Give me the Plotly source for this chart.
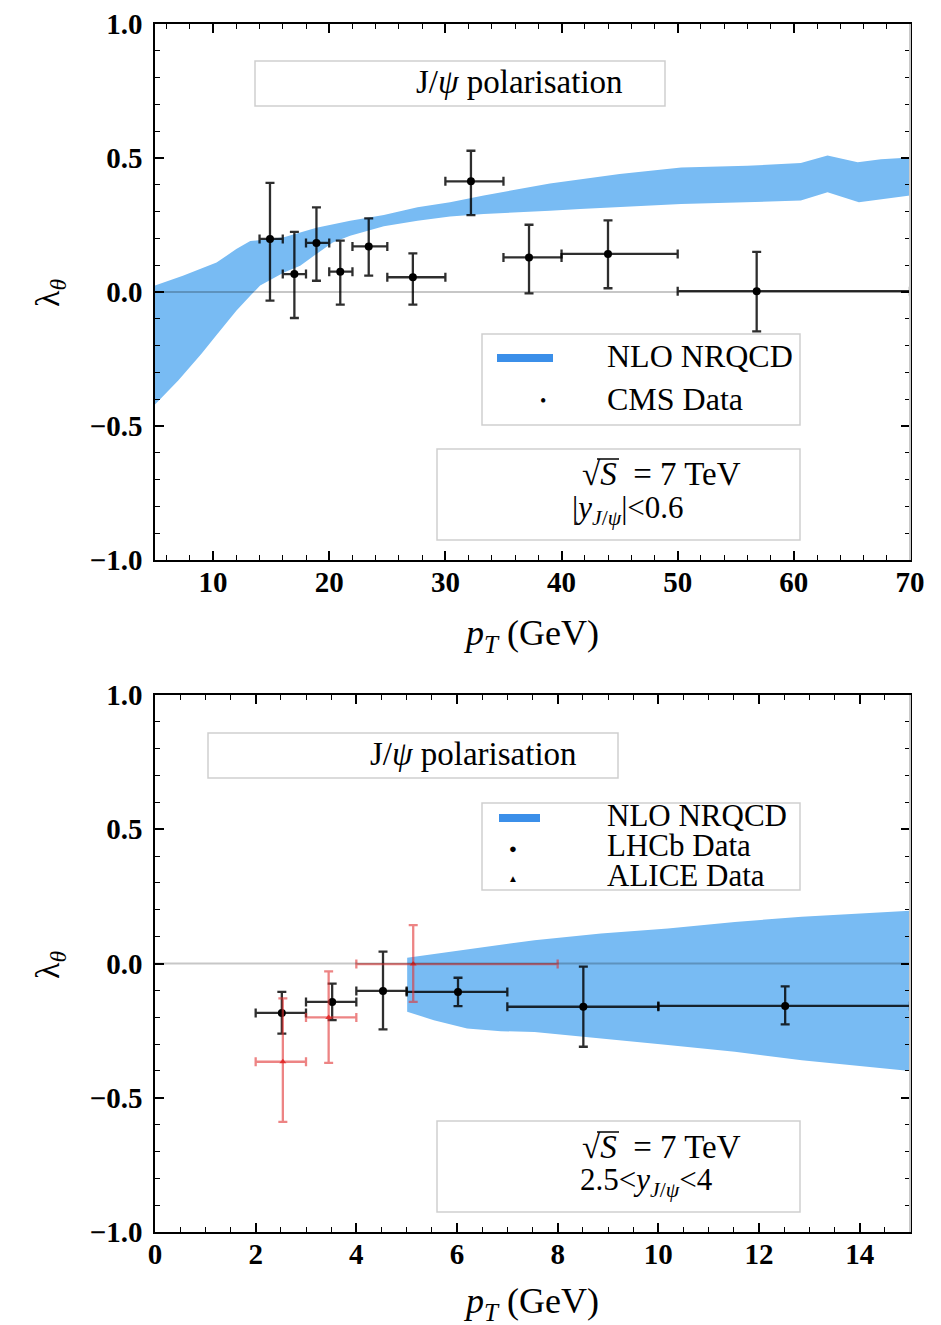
import plotly.graph_objects as go

W, H = 941, 1325

# ---------------- data: top panel (CMS, |y|<0.6) ----------------
cms_pt = [14.9, 17.0, 18.9, 20.95, 23.4, 27.2, 32.2, 37.2, 44.0, 56.8]
cms_bin_lo = [14, 16, 18, 20, 22, 25, 30, 35, 40, 50]
cms_bin_hi = [16, 18, 20, 22, 25, 30, 35, 40, 50, 70]
cms_lam = [0.198, 0.067, 0.183, 0.076, 0.170, 0.055, 0.413, 0.129, 0.142, 0.003]
cms_lam_hi = [0.407, 0.224, 0.316, 0.192, 0.275, 0.144, 0.527, 0.251, 0.267, 0.150]
cms_lam_lo = [-0.032, -0.097, 0.042, -0.047, 0.061, -0.047, 0.287, -0.005, 0.014, -0.147]

band1_up_pt = [5, 7.4, 10.3, 12.0, 13.2, 16.1, 18.9, 21.8, 24.7, 27.6, 30.4, 33.3, 39.0,
               41.6, 45.0, 50.3, 56.0, 60.6, 62.9, 65.5, 67.5, 70]
band1_up = [0.024, 0.061, 0.11, 0.16, 0.19, 0.204, 0.24, 0.266, 0.287, 0.316, 0.335, 0.36, 0.405,
            0.42, 0.44, 0.465, 0.471, 0.481, 0.509, 0.484, 0.495, 0.502]
band1_lo_pt = [5, 7, 9, 10.3, 12, 13.2, 14.05, 16.1, 17.5, 18.9, 20.3, 21.8, 24.7, 27.6, 30.4,
               33.3, 39.0, 41.6, 50.3, 56.0, 60.6, 62.9, 65.6, 70]
band1_lo = [-0.42, -0.33, -0.23, -0.16, -0.07, -0.014, 0.024, 0.073, 0.098, 0.142, 0.185, 0.21,
            0.245, 0.266, 0.282, 0.291, 0.303, 0.31, 0.328, 0.335, 0.341, 0.372, 0.335, 0.36]

# ---------------- data: bottom panel (LHCb, ALICE, 2.5<y<4) ----------------
lhcb_pt = [2.52, 3.52, 4.53, 6.02, 8.51, 12.52]
lhcb_bin_lo = [2, 3, 4, 5, 7, 10]
lhcb_bin_hi = [3, 4, 5, 7, 10, 15]
lhcb_lam = [-0.184, -0.143, -0.102, -0.106, -0.161, -0.158]
lhcb_lam_hi = [-0.106, -0.075, 0.044, -0.053, -0.012, -0.085]
lhcb_lam_lo = [-0.261, -0.211, -0.245, -0.159, -0.31, -0.227]

alice_pt = [2.54, 3.45, 5.13]
alice_bin_lo = [2, 3, 4]
alice_bin_hi = [3, 4, 8]
alice_lam = [-0.366, -0.201, -0.002]
alice_lam_hi = [-0.13, -0.029, 0.143]
alice_lam_lo = [-0.59, -0.37, -0.143]

band2_up_pt = [5.01, 6.2, 7.54, 8.86, 10.19, 11.52, 12.85, 15.0]
band2_up = [0.021, 0.053, 0.087, 0.112, 0.13, 0.155, 0.174, 0.196]
band2_lo_pt = [5.01, 5.54, 6.2, 6.87, 7.54, 8.86, 10.19, 11.52, 12.85, 15.0]
band2_lo = [-0.18, -0.211, -0.242, -0.252, -0.255, -0.28, -0.304, -0.329, -0.36, -0.40]

x1_ticks = [10, 20, 30, 40, 50, 60, 70]
x2_ticks = [0, 2, 4, 6, 8, 10, 12, 14]
y_ticks = [-1.0, -0.5, 0.0, 0.5, 1.0]

BAND = "#78bbf3"
LEGBLUE = "#3b8fe9"
SERIF = "Liberation Serif"


def px(x):
    return x / W


def py(y):
    return 1 - y / H


def minus(a, b):
    return [ai - bi for ai, bi in zip(a, b)]


fig = go.Figure()

# bands
fig.add_trace(go.Scatter(
    x=band1_up_pt + band1_lo_pt[::-1], y=band1_up + band1_lo[::-1],
    fill="toself", fillcolor=BAND, line=dict(width=0), mode="lines",
    xaxis="x", yaxis="y", showlegend=False, hoverinfo="skip"))
fig.add_trace(go.Scatter(
    x=band2_up_pt + band2_lo_pt[::-1], y=band2_up + band2_lo[::-1],
    fill="toself", fillcolor=BAND, line=dict(width=0), mode="lines",
    xaxis="x2", yaxis="y2", showlegend=False, hoverinfo="skip"))


def data_trace(xs, lo, hi, ys, yhi, ylo, color, symbol, size, xa, ya, ecolor):
    return go.Scatter(
        x=xs, y=ys, mode="markers",
        marker=dict(color=color, size=size, symbol=symbol),
        error_x=dict(type="data", symmetric=False, array=minus(hi, xs), arrayminus=minus(xs, lo),
                     color=ecolor, thickness=2.3, width=4.5),
        error_y=dict(type="data", symmetric=False, array=minus(yhi, ys), arrayminus=minus(ys, ylo),
                     color=ecolor, thickness=2.3, width=4.5),
        xaxis=xa, yaxis=ya, showlegend=False)


fig.add_trace(data_trace(cms_pt, cms_bin_lo, cms_bin_hi, cms_lam, cms_lam_hi, cms_lam_lo,
                         "black", "circle", 8, "x", "y", "rgba(0,0,0,0.82)"))
fig.add_trace(data_trace(lhcb_pt, lhcb_bin_lo, lhcb_bin_hi, lhcb_lam, lhcb_lam_hi, lhcb_lam_lo,
                         "black", "circle", 8, "x2", "y2", "rgba(0,0,0,0.82)"))
fig.add_trace(data_trace(alice_pt, alice_bin_lo, alice_bin_hi, alice_lam, alice_lam_hi, alice_lam_lo,
                         "rgba(225,40,40,0.9)", "triangle-up", 6, "x2", "y2", "rgba(225,50,50,0.6)"))

# axes
tickfont = dict(family=SERIF, size=29, color="black", weight="bold")


def xax(domain, anchor, rng, ticks, minor_dtick):
    return dict(domain=domain, anchor=anchor, range=rng, tickmode="array", tickvals=ticks,
                ticktext=[str(t) for t in ticks], ticks="inside", ticklen=9, tickwidth=1.5,
                tickcolor="black", showline=True, linecolor="black", linewidth=1.5,
                mirror="allticks", showgrid=False, zeroline=False, tickfont=tickfont,
                ticklabelstandoff=-5, automargin=False, fixedrange=True,
                minor=dict(ticks="inside", ticklen=5, tickwidth=1.2, tickcolor="black",
                           dtick=minor_dtick, tick0=0, showgrid=False))


def yax(domain, anchor):
    return dict(domain=domain, anchor=anchor, range=[-1, 1], tickmode="array", tickvals=y_ticks,
                ticktext=[f"{t:.1f}".replace("-", "\u2212") for t in y_ticks],
                ticks="inside", ticklen=9, tickwidth=1.5,
                tickcolor="black", showline=True, linecolor="black", linewidth=1.5,
                mirror="allticks", showgrid=False, zeroline=False, tickfont=tickfont,
                ticklabelstandoff=5, automargin=False, fixedrange=True,
                minor=dict(ticks="inside", ticklen=5, tickwidth=1.2, tickcolor="black",
                           dtick=0.1, tick0=0, showgrid=False))


xd = [px(155), px(910)]
fig.update_layout(
    width=W, height=H, margin=dict(l=0, r=0, t=0, b=0, pad=0, autoexpand=False),
    paper_bgcolor="white", plot_bgcolor="white", showlegend=False,
    xaxis=xax(xd, "y", [5, 70], x1_ticks, 2),
    yaxis=yax([py(560), py(24)], "x"),
    xaxis2=xax(xd, "y2", [0, 15], x2_ticks, 0.5),
    yaxis2=yax([py(1232), py(695)], "x2"),
)

shapes = []
# zero lines and light grey right frame edge
for xr, yr in (("x", "y"), ("x2", "y2")):
    shapes.append(dict(type="line", xref=xr + " domain", yref=yr, x0=0, x1=1, y0=0, y1=0,
                       line=dict(color="rgba(0,0,0,0.22)", width=2), layer="above"))
    shapes.append(dict(type="line", xref=xr + " domain", yref=yr + " domain", x0=1, x1=1, y0=0, y1=1,
                       line=dict(color="#c9c9c9", width=2), layer="above"))


def box(x0, y0, x1, y1):
    shapes.append(dict(type="rect", xref="paper", yref="paper", x0=px(x0), x1=px(x1),
                       y0=py(y1), y1=py(y0), line=dict(color="#cfcfcf", width=1.5),
                       fillcolor="rgba(255,255,255,0)", layer="above"))


box(255, 61, 665, 106)
box(482, 334, 800, 425)
box(437, 449, 800, 540)
box(208, 733, 618, 778)
box(482, 803, 800, 890)
box(437, 1121, 800, 1212)

# legend colour bars
for (a, b, yy) in ((497, 553, 358), (499, 540, 818)):
    shapes.append(dict(type="line", xref="paper", yref="paper", x0=px(a), x1=px(b), y0=py(yy), y1=py(yy),
                       line=dict(color=LEGBLUE, width=8)))

# vinculum of sqrt(S)
for yy in (459, 1132):
    shapes.append(dict(type="line", xref="paper", yref="paper", x0=px(597), x1=px(619), y0=py(yy), y1=py(yy),
                       line=dict(color="black", width=1.5)))

fig.update_layout(shapes=shapes)

anns = []


def ann(text, x, y, size, xanchor="left", angle=0, color="black"):
    anns.append(dict(text=text, x=px(x), y=py(y), xref="paper", yref="paper", showarrow=False,
                     xanchor=xanchor, yanchor="middle", textangle=angle,
                     font=dict(family=SERIF, size=size, color=color)))


# top panel texts
ann("J/<i>ψ</i> polarisation", 519, 82, 33, "center")
ann("NLO NRQCD", 605, 356, 32)
ann("•", 543, 401, 18, "center")
ann("CMS Data", 605, 399, 32)
ann("√<i>S</i>  = 7 TeV", 580, 474, 33)
ann("|<i>y</i><sub><i>J</i>/<i>ψ</i></sub>|&lt;0.6", 570, 510, 31)
ann("<i>p</i><sub><i>T</i></sub> (GeV)", 531, 635, 36, "center")
ann("λ<sub><i>θ</i></sub>", 50, 293, 34, "center", -90)

# bottom panel texts
ann("J/<i>ψ</i> polarisation", 473, 754, 33, "center")
ann("NLO NRQCD", 605, 815, 31)
ann("●", 513, 848, 13, "center")
ann("LHCb Data", 605, 846, 31)
ann("▲", 513, 878, 10, "center")
ann("ALICE Data", 605, 875, 31)
ann("√<i>S</i>  = 7 TeV", 580, 1147, 33)
ann("2.5&lt;<i>y</i><sub><i>J</i>/<i>ψ</i></sub>&lt;4", 578, 1182, 31)
ann("<i>p</i><sub><i>T</i></sub> (GeV)", 531, 1303, 36, "center")
ann("λ<sub><i>θ</i></sub>", 50, 965, 34, "center", -90)

fig.update_layout(annotations=anns)

fig.write_html("out.html")
